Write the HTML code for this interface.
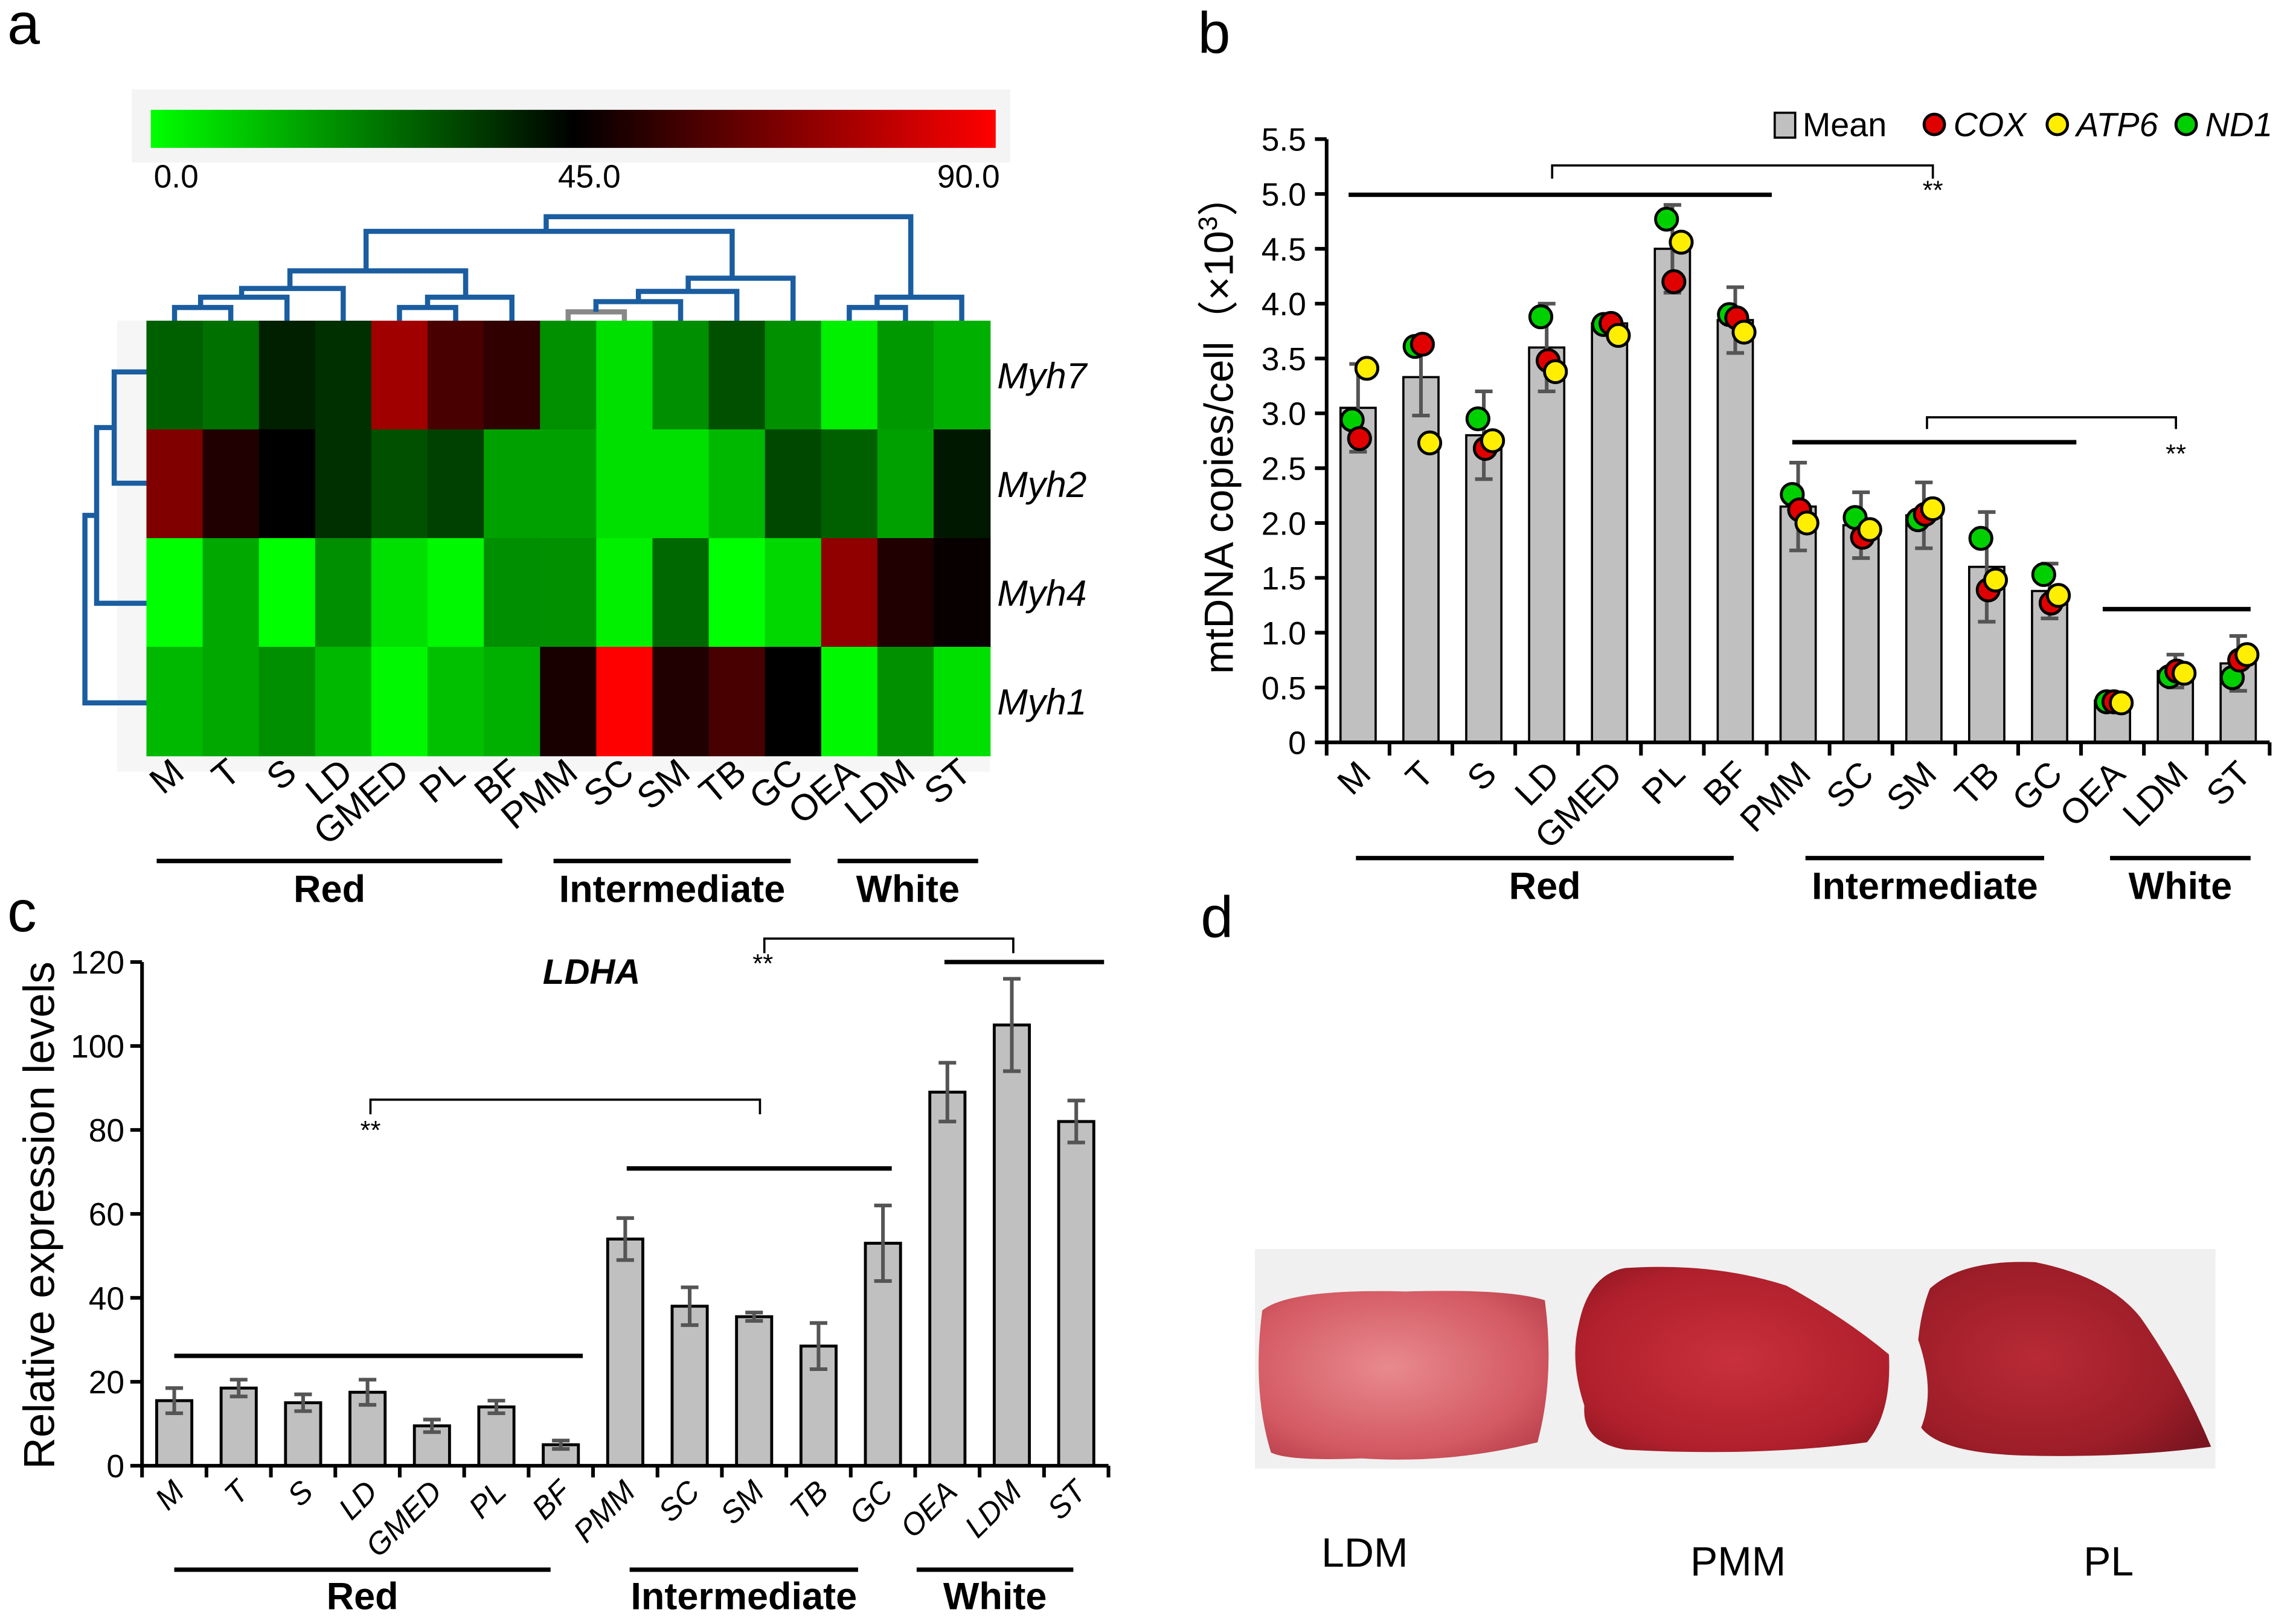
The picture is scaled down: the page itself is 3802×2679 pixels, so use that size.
<!DOCTYPE html>
<html><head><meta charset="utf-8">
<style>
html,body{margin:0;padding:0;background:#fff;}
svg{display:block;font-family:"Liberation Sans",Arial,sans-serif;}
</style></head>
<body>
<svg id="fig" width="3802" height="2679" viewBox="0 0 1568 1105" preserveAspectRatio="none" xmlns="http://www.w3.org/2000/svg">
<defs>
<linearGradient id="cbar" x1="0" x2="1" y1="0" y2="0">
<stop offset="0" stop-color="#00ff00"/><stop offset="0.5" stop-color="#000000"/><stop offset="1" stop-color="#ff0000"/>
</linearGradient>
<radialGradient id="meat1" cx="0.45" cy="0.45" r="0.7"><stop offset="0" stop-color="#e88a8f"/><stop offset="0.7" stop-color="#d45a64"/><stop offset="1" stop-color="#b8404a"/></radialGradient>
<radialGradient id="meat2" cx="0.5" cy="0.5" r="0.7"><stop offset="0" stop-color="#c8303c"/><stop offset="0.7" stop-color="#b0202c"/><stop offset="1" stop-color="#8a1520"/></radialGradient>
<radialGradient id="meat3" cx="0.4" cy="0.5" r="0.7"><stop offset="0" stop-color="#b82a35"/><stop offset="0.7" stop-color="#9c1d28"/><stop offset="1" stop-color="#7a1520"/></radialGradient>
</defs>
</svg>
<script>
const NS='http://www.w3.org/2000/svg';
const svg=document.getElementById('fig');
function mk(tag,attrs,parent,text){const e=document.createElementNS(NS,tag);for(const k in attrs)e.setAttribute(k,attrs[k]);if(text!==undefined)e.textContent=text;(parent||svg).appendChild(e);return e;}

// ===== data =====
const muscles=['M','T','S','LD','GMED','PL','BF','PMM','SC','SM','TB','GC','OEA','LDM','ST'];
const genes=['Myh7','Myh2','Myh4','Myh1'];
const heatMyh7=['#006000','#007000','#002000','#003000','#a00000','#480000','#300000','#009000','#00e000','#008f00','#005000','#009000','#00f000','#009800','#00b000'];
const heatMyh2=['#800000','#200000','#000000','#003000','#005000','#004000','#00a000','#00a000','#00e000','#00e000','#00b800','#004800','#006000','#00a000','#001800'];
const heatMyh4=['#00ff00','#00a800','#00ff00','#008f00','#00e000','#00f800','#008f00','#009000','#00f000','#006800','#00ff00','#00d800','#900000','#200000','#080000'];
const heatMyh1=['#00b800','#00a800','#008f00','#00b800','#00f800','#00c000','#00b000','#180000','#ff0000','#200000','#480000','#000000','#00f800','#009000','#00e000'];
const colorbarTicks=['0.0','45.0','90.0'];

const mtMean=[3.05,3.33,2.8,3.6,3.82,4.5,3.85,2.15,1.98,2.07,1.6,1.38,0.38,0.65,0.72];
const mtErr=[0.4,0.35,0.4,0.4,0.05,0.4,0.3,0.4,0.3,0.3,0.5,0.25,0.05,0.15,0.25];
const mtCOX=[2.77,3.63,2.68,3.48,3.82,4.2,3.87,2.12,1.87,2.08,1.39,1.27,0.37,0.65,0.75];
const mtATP6=[3.41,2.73,2.75,3.38,3.71,4.56,3.74,2.0,1.94,2.13,1.48,1.34,0.36,0.63,0.8];
const mtND1=[2.94,3.61,2.95,3.88,3.81,4.77,3.9,2.26,2.05,2.03,1.86,1.53,0.37,0.6,0.59];
const mtTicks=['0','0.5','1.0','1.5','2.0','2.5','3.0','3.5','4.0','4.5','5.0','5.5'];

const ldhaMean=[15.5,18.5,15,17.5,9.5,14,5,54,38,35.5,28.5,53,89,105,82];
const ldhaErr=[3,2,2,3,1.5,1.5,1,5,4.5,1,5.5,9,7,11,5];
const ldhaTicks=[0,20,40,60,80,100,120];

// ===== panel letters =====
[['a',5,30],['b',818,36],['c',5,636],['d',820,640]].forEach(p=>{
  const t=mk('text',{x:p[1],y:p[2],'font-size':40,fill:'#000'},svg,p[0]);
  
  
});

// ===== PANEL A =====
const ga=mk('g',{});


const cbBox=mk('rect',{x:90,y:61,width:600,height:50,fill:'#f4f4f4'},ga);


const cb=mk('rect',{x:103,y:75,width:577,height:26,fill:'url(#cbar)'},ga);


const cbX=[105,381,640];
colorbarTicks.forEach((t,i)=>{
  const e=mk('text',{x:cbX[i],y:128,'font-size':22},ga,t);
  
  
});
const hmBg=mk('rect',{x:80,y:219,width:596,height:308,fill:'#f6f6f6'},ga);


const hx0=100,hcw=38.4,hy0=219,hrh=74.25;
const heatRows=[heatMyh7,heatMyh2,heatMyh4,heatMyh1];
function hcx(i){return hx0+hcw*(i+0.5);}
heatRows.forEach((row,r)=>{
  row.forEach((c,i)=>{
    const e=mk('rect',{x:hx0+hcw*i,y:hy0+hrh*r,width:hcw+0.5,height:hrh+0.5,fill:c},ga);
    
    
  });
  const lab=mk('text',{x:681,y:hy0+hrh*(r+0.5)+9,'font-size':25,'font-style':'italic'},ga,genes[r]);
  
  
});
muscles.forEach((m,i)=>{
  const e=mk('text',{x:hcx(i)+8,y:530,'font-size':25,'text-anchor':'end',transform:`rotate(-40 ${hcx(i)+8} 530)`},ga,m);
  
  
});
// dendrogram (top)
const dg=mk('g',{stroke:'#1a5da0','stroke-width':3.5,fill:'none'},ga);


function link(x1,x2,y,y1,y2,col){mk('path',{d:`M${x1} ${y1}V${y}H${x2}V${y2}`,stroke:col||'#1a5da0'},dg);}
link(hcx(0),hcx(1),210,219,219);
link(137,hcx(2),203,210,219);
link(165,hcx(3),197,203,219);
link(hcx(4),hcx(5),210,219,219);
link(292,hcx(6),203,210,219);
link(198,318,185,197,203);
link(hcx(7),hcx(8),213,219,219,'#888');
link(407,hcx(9),206,213,219);
link(436,hcx(10),199,206,219);
link(470,hcx(11),190,199,219);
link(250,500,158,185,190);
link(hcx(12),hcx(13),210,219,219);
link(599,hcx(14),203,210,219);
link(373,622,148,158,203);
// left dendrogram
const lg=mk('g',{stroke:'#1a5da0','stroke-width':3.5,fill:'none'},ga);


mk('path',{d:'M100 254H78V330H100'},lg);
mk('path',{d:'M78 292H66V412H100'},lg);
mk('path',{d:'M66 352H58V480H100'},lg);
// group lines
function groups(g,items,yl,yt){
  items.forEach(it=>{
    const l=mk('line',{x1:it[1],x2:it[2],y1:yl,y2:yl,stroke:'#000','stroke-width':3},g);
    
    
    const t=mk('text',{x:(it[1]+it[2])/2,y:yt,'font-size':26,'font-weight':'bold','text-anchor':'middle'},g,it[0]);
    
    
  });
}
groups(ga,[['Red',107,343],['Intermediate',378,540],['White',572,668]],588,616);

// ===== PANEL B =====
const gb=mk('g',{});


const bx0=906,bx1=1550,by0=507,byTop=95,bmax=5.5;
const bStep=(bx1-bx0)/muscles.length;
function bX(i){return bx0+bStep*(i+0.5);}
function bY(v){return by0-(by0-byTop)*v/bmax;}
muscles.forEach((m,i)=>{
  const w=24,x=bX(i)-w/2;
  const r=mk('rect',{x:x,y:bY(mtMean[i]),width:w,height:by0-bY(mtMean[i]),fill:'#c0c0c0',stroke:'#000','stroke-width':1.5},gb);
  
  
  const t=bY(mtMean[i]+mtErr[i]),b=bY(mtMean[i]-mtErr[i]);
  const eb=mk('path',{d:`M${bX(i)} ${t}V${b}M${bX(i)-6} ${t}H${bX(i)+6}M${bX(i)-6} ${b}H${bX(i)+6}`,stroke:'#555','stroke-width':2.5,fill:'none'},gb);
  
  
});
const dots=[[mtND1,'#00d000',-4,'nd1'],[mtCOX,'#e00000',1,'cox'],[mtATP6,'#ffee00',6,'atp6']];
dots.forEach(d=>{
  d[0].forEach((v,i)=>{
    const c=mk('circle',{cx:bX(i)+d[2],cy:bY(v),r:7.5,fill:d[1],stroke:'#000','stroke-width':2},gb);
    
    
  });
});
const bAxis=mk('path',{d:`M${bx0} ${byTop}V${by0}H${bx1}`,stroke:'#000','stroke-width':2.5,fill:'none'},gb);


mtTicks.forEach((t,i)=>{
  const v=parseFloat(t),y=bY(v);
  mk('line',{x1:bx0-8,x2:bx0,y1:y,y2:y,stroke:'#000','stroke-width':2.5},gb);
  const e=mk('text',{x:bx0-14,y:y+8,'font-size':22,'text-anchor':'end'},gb,t);
  
  
});
for(let i=0;i<=muscles.length;i++){const x=bx0+bStep*i;mk('line',{x1:x,x2:x,y1:by0,y2:by0+9,stroke:'#000','stroke-width':2.5},gb);}
muscles.forEach((m,i)=>{
  const e=mk('text',{x:bX(i)+10,y:530,'font-size':24,'text-anchor':'end',transform:`rotate(-45 ${bX(i)+10} 530)`},gb,m);
  
  
});
const byt=mk('text',{x:0,y:0,'font-size':28,'text-anchor':'middle',transform:'translate(842 290) rotate(-90)'},gb,'mtDNA copies/cell（×10');


mk('tspan',{'font-size':18,dy:-11},byt,'3');
mk('tspan',{dy:11},byt,'）');
// legend
const lgB=mk('g',{},gb);


mk('rect',{x:1212,y:77,width:14,height:17,fill:'#c0c0c0',stroke:'#000','stroke-width':1.5},lgB);
mk('text',{x:1231,y:93,'font-size':23},lgB,'Mean');
[[1321,'#e00000','COX',1334],[1405,'#ffee00','ATP6',1418],[1493,'#00d000','ND1',1506]].forEach(l=>{
  mk('circle',{cx:l[0],cy:85,r:7,fill:l[1],stroke:'#000','stroke-width':2},lgB);
  mk('text',{x:l[3],y:93,'font-size':23,'font-style':'italic'},lgB,l[2]);
});
// significance
function sig(g,s){
  s.lines.forEach(l=>mk('line',{x1:l[0],x2:l[1],y1:l[2],y2:l[2],stroke:'#000','stroke-width':3},g));
  s.brackets.forEach(b=>mk('path',{d:`M${b[0]} ${b[3]}V${b[2]}H${b[1]}V${b[3]}`,stroke:'#000','stroke-width':1.5,fill:'none'},g));
  s.stars.forEach(st=>mk('text',{x:st[0],y:st[1],'font-size':18,'text-anchor':'middle'},g,'**'));
}
const sb=mk('g',{},gb);


sig(sb,{lines:[[921,1210,133],[1224,1418,302],[1436,1537,416]],brackets:[[1060,1320,113,122],[1316,1486,285,293]],stars:[[1320,136],[1486,316]]});
groups(gb,[['Red',926,1184],['Intermediate',1233,1396],['White',1441,1537]],586,614);

// ===== PANEL C =====
const gc=mk('g',{});


const cx0=97,cx1=757,cy0=1001,cyTop=657,cmax=120;
const cStep=(cx1-cx0)/muscles.length;
function cX(i){return cx0+cStep*(i+0.5);}
function cY(v){return cy0-(cy0-cyTop)*v/cmax;}
muscles.forEach((m,i)=>{
  const w=24,x=cX(i)-w/2;
  const r=mk('rect',{x:x,y:cY(ldhaMean[i]),width:w,height:cy0-cY(ldhaMean[i]),fill:'#c0c0c0',stroke:'#000','stroke-width':2},gc);
  
  
  const t=cY(ldhaMean[i]+ldhaErr[i]),b=cY(ldhaMean[i]-ldhaErr[i]);
  const eb=mk('path',{d:`M${cX(i)} ${t}V${b}M${cX(i)-6} ${t}H${cX(i)+6}M${cX(i)-6} ${b}H${cX(i)+6}`,stroke:'#555','stroke-width':2.5,fill:'none'},gc);
  
  
});
const cAxis=mk('path',{d:`M${cx0} ${cyTop}V${cy0}H${cx1}`,stroke:'#000','stroke-width':2.5,fill:'none'},gc);


ldhaTicks.forEach(v=>{
  const y=cY(v);
  mk('line',{x1:cx0-8,x2:cx0,y1:y,y2:y,stroke:'#000','stroke-width':2.5},gc);
  const e=mk('text',{x:cx0-12,y:y+8,'font-size':22,'text-anchor':'end'},gc,String(v));
  
  
});
for(let i=0;i<=muscles.length;i++){const x=cx0+cStep*i;mk('line',{x1:x,x2:x,y1:cy0,y2:cy0+8,stroke:'#000','stroke-width':2.5},gc);}
muscles.forEach((m,i)=>{
  const e=mk('text',{x:cX(i)+8,y:1020,'font-size':21,'font-style':'italic','text-anchor':'end',transform:`rotate(-45 ${cX(i)+8} 1020)`},gc,m);
  
  
});
const cyt=mk('text',{x:0,y:0,'font-size':30,'text-anchor':'middle',transform:'translate(37 830) rotate(-90)'},gc,'Relative expression levels');


const ct=mk('text',{x:404,y:672,'font-size':24,'font-weight':'bold','font-style':'italic','text-anchor':'middle'},gc,'LDHA');


const sc=mk('g',{},gc);


sig(sc,{lines:[[119,398,926],[428,609,798],[645,754,657]],brackets:[[253,519,751,761],[522,692,641,651]],stars:[[253,778],[521,664]]});
groups(gc,[['Red',119,376],['Intermediate',430,586],['White',626,733]],1072,1099);

// ===== PANEL D =====
const gd=mk('g',{});


const bg=mk('rect',{x:857,y:853,width:656,height:150,fill:'#f0f0f0'},gd);


const m1=mk('path',{d:'M862 895 Q880 880 960 882 Q1030 880 1055 888 Q1062 940 1050 985 Q990 1000 930 996 Q880 998 868 992 Q855 950 862 895Z',fill:'url(#meat1)'},gd);


const m2=mk('path',{d:'M1078 905 Q1085 870 1110 866 Q1170 862 1220 878 Q1260 900 1290 925 Q1292 965 1275 985 Q1200 995 1110 990 Q1080 985 1082 960 Q1072 930 1078 905Z',fill:'url(#meat2)'},gd);


const m3=mk('path',{d:'M1318 880 Q1340 860 1390 862 Q1440 872 1462 900 Q1490 940 1510 988 Q1450 996 1380 994 Q1325 992 1312 975 Q1322 950 1310 915 Q1312 895 1318 880Z',fill:'url(#meat3)'},gd);


[['LDM',932,1070],['PMM',1187,1076],['PL',1440,1076]].forEach(l=>{
  const t=mk('text',{x:l[1],y:l[2],'font-size':28,'text-anchor':'middle'},gd,l[0]);
  
  
});
</script>
</body></html>
